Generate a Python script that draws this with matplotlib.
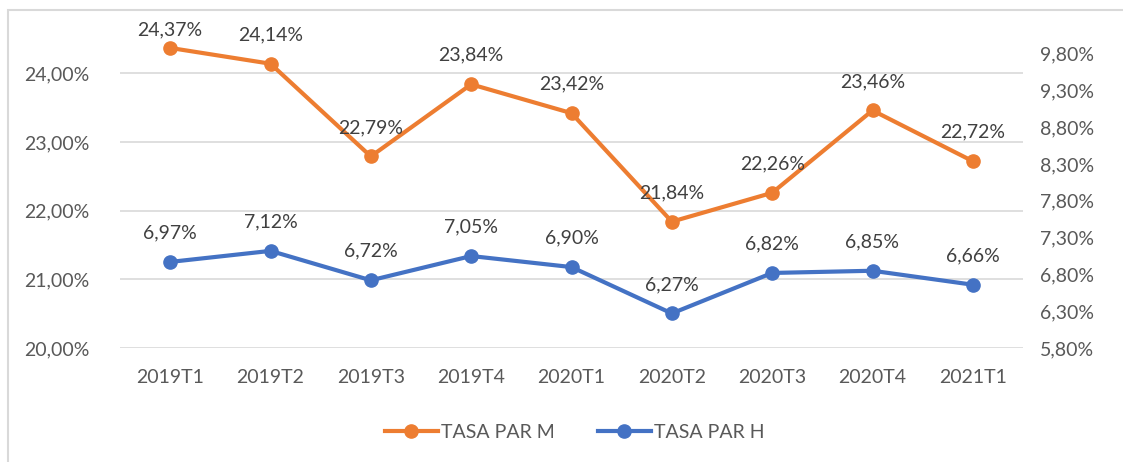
import matplotlib.pyplot as plt
from matplotlib.patches import Rectangle
from matplotlib.ticker import FuncFormatter

periodos = ['2019T1', '2019T2', '2019T3', '2019T4', '2020T1', '2020T2', '2020T3', '2020T4', '2021T1']
tasa_m = [24.37, 24.14, 22.79, 23.84, 23.42, 21.84, 22.26, 23.46, 22.72]
tasa_h = [6.97, 7.12, 6.72, 7.05, 6.90, 6.27, 6.82, 6.85, 6.66]
ticks_izq = [20, 21, 22, 23, 24]
ticks_der = [5.8, 6.3, 6.8, 7.3, 7.8, 8.3, 8.8, 9.3, 9.8]

NARANJA = '#ED7D31'
AZUL = '#4472C4'
GRIS_TXT = '#595959'
plt.rcParams['font.family'] = ['Lato', 'DejaVu Sans']
TAM = 14


def pct(v, pos=None):
    return ('%.2f%%' % v).replace('.', ',')


fig = plt.figure(figsize=(11.23, 4.62), dpi=100)
# marco del grafico
fig.patches.append(Rectangle((8 / 1123, -0.1), 1.2, 1 - 10 / 462 + 0.1, transform=fig.transFigure,
                             fill=False, edgecolor='#D9D9D9', linewidth=1.5))

ax = fig.add_axes([120 / 1123, 1 - 348 / 462, 903 / 1123, 309 / 462])
ax2 = ax.twinx()
x = list(range(len(periodos)))

l1, = ax.plot(x, tasa_m, color=NARANJA, lw=3, marker='o', ms=9.5, label='TASA PAR M', zorder=3)
l2, = ax2.plot(x, tasa_h, color=AZUL, lw=3, marker='o', ms=9.5, label='TASA PAR H', zorder=3)

ax.set_xlim(-0.5, len(periodos) - 0.5)
ax.set_ylim(20, 24.5)
ax2.set_ylim(5.8, 10.0)
ax.set_yticks(ticks_izq)
ax2.set_yticks(ticks_der)
ax.yaxis.set_major_formatter(FuncFormatter(pct))
ax2.yaxis.set_major_formatter(FuncFormatter(pct))
ax.set_xticks(x)
ax.set_xticklabels(periodos)

ax.grid(axis='y', color='#D9D9D9', lw=1.2)
ax.set_axisbelow(True)
for a in (ax, ax2):
    for s in a.spines.values():
        s.set_visible(False)
    a.tick_params(length=0, labelsize=TAM, labelcolor=GRIS_TXT)
ax.tick_params(axis='y', pad=22)
ax.tick_params(axis='x', pad=15)
ax2.tick_params(axis='y', pad=12)

# etiquetas de datos
fig.canvas.draw()
tope = 462 - 30
for a, serie in ((ax, tasa_m), (ax2, tasa_h)):
    for xi, v in zip(x, serie):
        px, py = a.transData.transform((xi, v))
        ty = min(py + 29, tope)
        xt, yt = fig.transFigure.inverted().transform((px, ty))
        fig.text(xt, yt, pct(v), ha='center', va='center', fontsize=TAM, color='#404040')

fig.legend(handles=[l1, l2], loc='center', bbox_to_anchor=(575 / 1123, 1 - 432 / 462), ncol=2,
           frameon=False, fontsize=TAM, labelcolor=GRIS_TXT, handlelength=2.7, columnspacing=2.2,
           handletextpad=0.2)

fig.savefig('out.png', dpi=100)
